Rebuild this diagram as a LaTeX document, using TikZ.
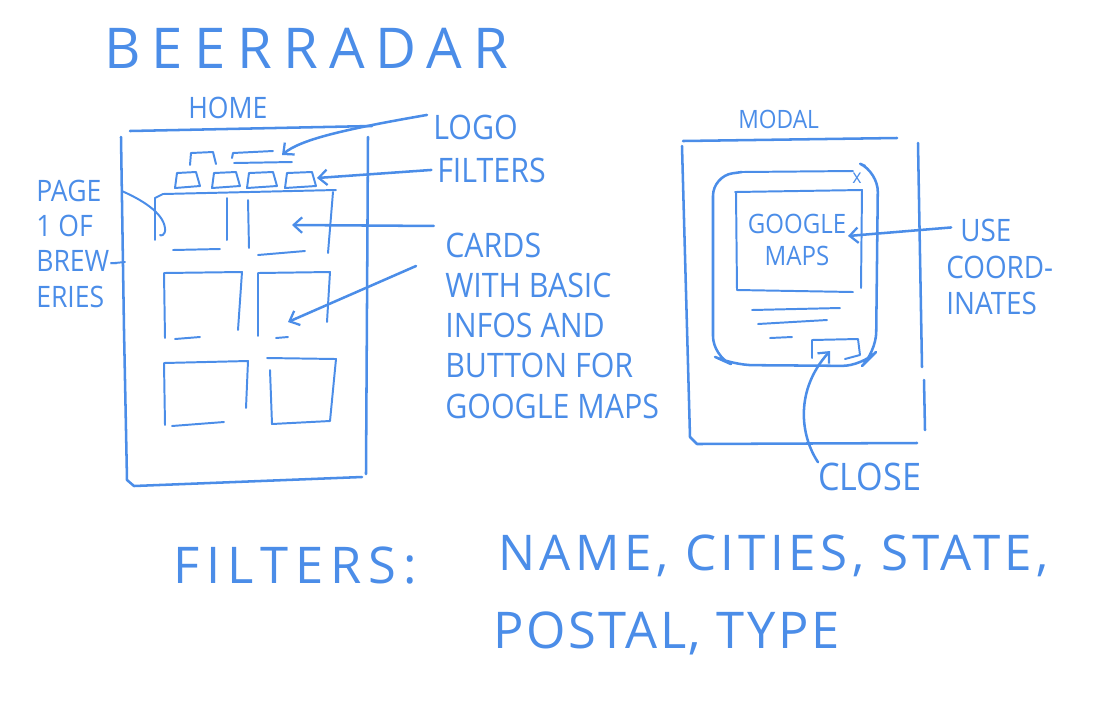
\documentclass[tikz,border=0pt]{standalone}
\usepackage{fontspec}
\newfontfamily\handfont[FakeStretch=0.9]{Open Sans}
\newfontfamily\titlefont[LetterSpace=20]{Open Sans}
\newfontfamily\widefont{Open Sans}
\usetikzlibrary{arrows.meta, calc}
\definecolor{pen}{HTML}{4B8DE8}
\newcommand{\penfont}[2]{\handfont\fontsize{#1}{#2}\selectfont}
\newcommand{\widepen}[2]{\widefont\addfontfeature{LetterSpace=#2}\fontsize{#1}{#1}\selectfont}
\tikzset{
  pen/.style={draw=pen, line width=1.8pt, line cap=round, line join=round},
  softpen/.style={pen, line width=1.4pt},
  tip/.style={pen, -{Straight Barb[length=6pt, width=11pt, line width=1.6pt]}},
  hand/.style={text=pen, inner sep=0pt, anchor=base west, align=left},
  block/.style={hand, anchor=north west},
}

\begin{document}
\begin{tikzpicture}[x=0.025cm, y=-0.025cm]
\useasboundingbox (0,0) rectangle (1100,700);

% ── titles ───────────────────────────────────────────────────────────────
\node[hand, font=\titlefont\fontsize{40}{44}\selectfont] (title) at (104,68) {BEERRADAR};
\node[hand, font=\penfont{21}{24}] (homeLbl) at (188,118) {HOME};
\node[hand, font=\penfont{18}{22}] (modalLbl) at (738,128) {MODAL};

% ── home screen ──────────────────────────────────────────────────────────
% frame
\draw[pen] (130,131) -- (372,126);
\draw[pen] (121,137) -- (124,330) -- (127,480) -- (134,486) -- (362,477);
\draw[pen] (368,137) -- (366,474);
% logo tab and title lines
\draw[softpen] (190,165) -- (191,153) -- (213,152) -- (216,164);
\draw[softpen] (232,158) -- (233,153) -- (273,151);
\draw[softpen] (234,163) -- (292,162);
% filter chips
\foreach \xa/\xb in {175/200, 212/240, 247/277, 285/316}
  \draw[softpen] (\xa,188) -- (\xa+2,173) -- (\xb-4,172) -- (\xb,186) -- cycle;
% first row of cards
\draw[softpen] (155,240) -- (155,198) -- (163,194) -- (336,190);
\draw[softpen] (227,198) -- (227,240);
\draw[softpen] (248,200) -- (249,248);
\draw[softpen] (333,192) -- (328,253);
\draw[softpen] (173,250) -- (220,249);
\draw[softpen] (258,255) -- (305,251);
% second row
\draw[softpen] (165,338) -- (164,273) -- (242,272) -- (238,330);
\draw[softpen] (175,339) -- (200,337);
\draw[softpen] (258,336) -- (258,273) -- (330,272) -- (327,322);
\draw[softpen] (276,338) -- (288,337);
% third row
\draw[softpen] (165,425) -- (164,363) -- (248,361) -- (246,408);
\draw[softpen] (172,426) -- (224,422);
\draw[softpen] (267,358) -- (336,359) -- (330,421) -- (272,424) -- (270,370);

% ── home notes ───────────────────────────────────────────────────────────
\node[hand, font=\penfont{24}{28}] (logoLbl) at (433,139) {LOGO};
\node[hand, font=\penfont{24}{28}] (filtersLbl) at (437,182) {FILTERS};
\node[block, font=\penfont{24}{28.5}] (cardsLbl) at (445,233)
  {CARDS\\WITH BASIC\\INFOS AND\\BUTTON FOR\\GOOGLE MAPS};
\node[block, font=\penfont{21}{25}] (pageLbl) at (36,180)
  {PAGE\\1 OF\\BREW-\\ERIES};

\coordinate (logoTip) at (282,155);
\coordinate (filtersTip) at (317,178);
\coordinate (cardTipA) at (292,225);
\coordinate (cardTipB) at (288,322);
\coordinate (cardFromB) at (416,266);
\coordinate (pageCurl) at (160,235);
\coordinate (brewTick) at (125,262);

\draw[tip] (logoLbl.west) ++(-6,-12) .. controls (340,130) and (300,140) .. (logoTip);
\draw[tip] ([xshift=-4pt]filtersLbl.west) -- (filtersTip);
\draw[tip] ([xshift=-8pt,yshift=5pt]cardsLbl.north west) -- (cardTipA);
\draw[tip] (cardFromB) -- (cardTipB);
\draw[softpen] ([xshift=3pt,yshift=-8pt]pageLbl.north east) .. controls (140,199) and (163,212) .. (165,228)
  .. controls (166,236) and (160,236) .. (pageCurl);
\draw[softpen] (115,263) -- (brewTick);

% ── modal screen ─────────────────────────────────────────────────────────
% frame
\draw[pen] (683,141) -- (897,138);
\draw[pen] (682,146) -- (690,437) -- (697,444) -- (917,443);
\draw[pen] (918,143) -- (922,367);
\draw[pen] (924,380) -- (925,430);
% dialog
\draw[pen, rounded corners=14pt] (742,172) -- (713,176) -- (713,356) -- (733,365) -- (862,366)
  -- (876,352) -- (878,172) -- (865,166);
\draw[softpen] (742,172) -- (853,171);
\node[hand, anchor=center, font=\penfont{14}{14}] (closeX) at (857,178) {x};
% map box
\draw[softpen] (735,192) -- (862,190) -- (861,288);
\draw[softpen] (736,192) -- (737,290) -- (853,292);
\node[text=pen, inner sep=0pt, align=center, font=\penfont{19}{23}] (mapsLbl) at (797,240)
  {GOOGLE\\MAPS};
% text lines and button
\draw[softpen] (752,310) -- (840,308);
\draw[softpen] (758,324) -- (827,320);
\draw[softpen] (770,338) -- (792,337);
\draw[softpen] (812,358) -- (812,340) -- (858,339) -- (860,355) -- (845,359);
\coordinate (closeTip) at (830,351);

% ── modal notes ──────────────────────────────────────────────────────────
\node[block, font=\penfont{22}{26}] (coordsLbl) at (946,219)
  {\hspace*{10pt}USE\\COORD-\\INATES};
\node[hand, font=\penfont{27}{30}] (closeLbl) at (818,490) {CLOSE};
\coordinate (mapsTip) at (848,236);
\draw[tip] ([xshift=-2pt,yshift=-6pt]coordsLbl.north west) ++(8,0) -- (mapsTip);
\draw[tip] (closeLbl.north west) .. controls (800,435) and (795,390) .. (closeTip);

% ── filter list ──────────────────────────────────────────────────────────
\node[hand, font=\widepen{36}{14}] (filterKey) at (173,583) {FILTERS:};
\node[hand, font=\widepen{35}{9}] (filterList) at (498,570) {NAME, CITIES, STATE,};
\node[hand, font=\widepen{36}{5}] (filterList2) at (493,648) {POSTAL, TYPE};

\end{tikzpicture}
\end{document}
